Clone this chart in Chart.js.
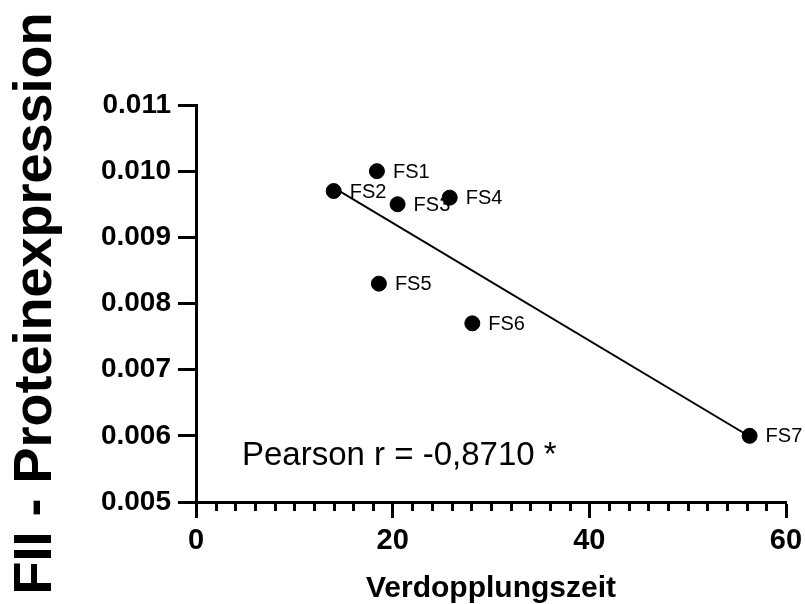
<!DOCTYPE html>
<html>
<head>
<meta charset="utf-8">
<script src="https://cdn.jsdelivr.net/npm/chart.js@4/dist/chart.umd.min.js"></script>
<style>
  html, body { margin: 0; padding: 0; background: #fff; }
  #wrap { width: 805px; height: 604px; }
</style>
</head>
<body>
<div id="wrap"><canvas id="corrChart"></canvas></div>
<script>
// cell lines and their measured values
const names = ['FS1', 'FS2', 'FS3', 'FS4', 'FS5', 'FS6', 'FS7'];
const verdopplungszeit = [18.4, 14.0, 20.5, 25.8, 18.6, 28.1, 56.3];
const proteinexpression = [0.0100, 0.0097, 0.0095, 0.0096, 0.0083, 0.0077, 0.0060];

// regression line end points
const fitX = [14.0, 56.3];
const fitY = [0.00975, 0.00599];

// axes
const xTickValues = [0, 20, 40, 60];
const xMinorStep = 2;
const yTickValues = [0.005, 0.006, 0.007, 0.008, 0.009, 0.010, 0.011];
const yTickLabels = ['0.005', '0.006', '0.007', '0.008', '0.009', '0.010', '0.011'];
const pearsonText = 'Pearson r = -0,8710 *';

const FONT = "'Liberation Sans', Arial, Helvetica, sans-serif";

const pointLabels = {
    id: 'pointLabels',
    beforeDatasetsDraw(chart) {
        const ctx = chart.ctx;
        const meta = chart.getDatasetMeta(0);
        ctx.save();
        ctx.fillStyle = '#000';
        ctx.font = '20px ' + FONT;
        ctx.textAlign = 'left';
        ctx.textBaseline = 'middle';
        meta.data.forEach((pt, i) => {
            ctx.fillText(names[i], pt.x + 16, pt.y + 1);
        });
        ctx.restore();
    }
};

const extras = {
    id: 'extras',
    afterDraw(chart) {
        const ctx = chart.ctx;
        const x = chart.scales.x;
        const area = chart.chartArea;
        ctx.save();
        // minor ticks on the x axis
        ctx.strokeStyle = '#000';
        ctx.lineWidth = 3;
        ctx.beginPath();
        for (let v = x.min; v <= x.max; v += xMinorStep) {
            if (xTickValues.includes(v)) continue;
            const px = Math.round(x.getPixelForValue(v)) + 0.5;
            ctx.moveTo(px, area.bottom);
            ctx.lineTo(px, area.bottom + 9);
        }
        ctx.stroke();

        ctx.fillStyle = '#000';
        ctx.font = '33px ' + FONT;
        ctx.textAlign = 'left';
        ctx.textBaseline = 'alphabetic';
        ctx.fillText(pearsonText, area.left + 46, area.bottom - 37);
        ctx.restore();
    }
};

const chart = new Chart(document.getElementById('corrChart'), {
    type: 'scatter',
    data: {
        datasets: [{
            label: 'FII',
            data: verdopplungszeit.map((v, i) => ({ x: v, y: proteinexpression[i] })),
            backgroundColor: '#000',
            borderColor: '#000',
            pointRadius: 7.5,
            pointHoverRadius: 7.5,
            clip: false
        }, {
            type: 'line',
            label: 'fit',
            data: fitX.map((v, i) => ({ x: v, y: fitY[i] })),
            borderColor: '#000',
            borderWidth: 2,
            pointRadius: 0,
            fill: false,
            clip: false
        }]
    },
    options: {
        responsive: true,
        maintainAspectRatio: false,
        animation: false,
        layout: { padding: { left: 0, right: 19, top: 105, bottom: 0 } },
        plugins: {
            legend: { display: false },
            tooltip: { enabled: false }
        },
        scales: {
            x: {
                type: 'linear',
                min: 0,
                max: 60,
                afterBuildTicks: (scale) => { scale.ticks = xTickValues.map(v => ({ value: v })); },
                afterFit: (scale) => {
                    scale.height = 102;
                    scale.paddingLeft = 0;
                    scale.paddingRight = 0;
                },
                grid: {
                    drawOnChartArea: false,
                    drawTicks: true,
                    tickLength: 16,
                    tickWidth: 3,
                    tickColor: '#000'
                },
                border: { display: true, color: '#000', width: 3 },
                ticks: {
                    color: '#000',
                    padding: 6,
                    maxRotation: 0,
                    font: { family: FONT, size: 29, weight: 'bold' }
                },
                title: {
                    display: true,
                    text: 'Verdopplungszeit',
                    color: '#000',
                    font: { family: FONT, size: 30, weight: 'bold' },
                    padding: { top: 0, bottom: -3 }
                }
            },
            y: {
                type: 'linear',
                min: 0.005,
                max: 0.011,
                afterBuildTicks: (scale) => { scale.ticks = yTickValues.map(v => ({ value: v })); },
                afterFit: (scale) => {
                    scale.width = 196;
                    scale.paddingTop = 0;
                    scale.paddingBottom = 0;
                },
                grid: {
                    drawOnChartArea: false,
                    drawTicks: true,
                    tickLength: 18,
                    tickWidth: 3,
                    tickColor: '#000'
                },
                border: { display: true, color: '#000', width: 3 },
                ticks: {
                    color: '#000',
                    padding: 7,
                    callback: (value, index) => yTickLabels[index],
                    font: { family: FONT, size: 28, weight: 'bold' }
                },
                title: {
                    display: true,
                    text: 'FII - Proteinexpression',
                    color: '#000',
                    font: { family: FONT, size: 54, weight: 'bold' },
                    padding: { top: 4, bottom: 0 }
                }
            }
        }
    },
    plugins: [pointLabels, extras]
});
</script>
</body>
</html>
